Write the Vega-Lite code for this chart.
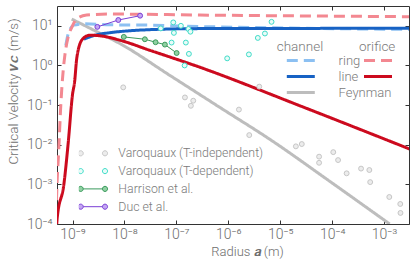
{
  "$schema": "https://vega.github.io/schema/vega-lite/v6.json",
  "width": 352,
  "height": 218,
  "autosize": "none",
  "padding": {"left": 57, "top": 6, "right": 7, "bottom": 43},
  "background": "white",
  "config": {
    "view": {"stroke": null},
    "font": "Roboto",
    "axis": {
      "grid": false,
      "domainColor": "#333333",
      "tickColor": "#333333",
      "domainWidth": 1,
      "tickWidth": 1,
      "tickSize": -4,
      "labelColor": "#6e6e6e",
      "titleColor": "#6e6e6e",
      "labelFont": "Roboto",
      "titleFont": "Roboto",
      "labelFontWeight": 300,
      "titleFontWeight": 300
    },
    "legend": {
      "labelFont": "Roboto",
      "titleFont": "Roboto",
      "labelFontWeight": 300,
      "titleFontWeight": 300,
      "labelColor": "#7a7a7a",
      "titleColor": "#7a7a7a",
      "padding": 0
    }
  },
  "datasets": {
    "curves": [
      {"g": "channel", "k": "Feynman", "x": 9.6e-10, "y": 14.8},
      {"g": "channel", "k": "Feynman", "x": 3.36e-9, "y": 6.5},
      {"g": "channel", "k": "Feynman", "x": 8.15e-9, "y": 3.57},
      {"g": "channel", "k": "Feynman", "x": 7.5e-8, "y": 0.56},
      {"g": "channel", "k": "Feynman", "x": 6.9e-7, "y": 0.087},
      {"g": "channel", "k": "Feynman", "x": 6.35e-6, "y": 0.0136},
      {"g": "channel", "k": "Feynman", "x": 9.1e-5, "y": 0.00118},
      {"g": "channel", "k": "Feynman", "x": 1.28e-3, "y": 0.0001},
      {"g": "channel", "k": "ring", "x": 7.4e-10, "y": 3.2},
      {"g": "channel", "k": "ring", "x": 8.3e-10, "y": 6.5},
      {"g": "channel", "k": "ring", "x": 1.06e-9, "y": 10.4},
      {"g": "channel", "k": "ring", "x": 1.73e-9, "y": 11.2},
      {"g": "channel", "k": "ring", "x": 5.2e-9, "y": 10.6},
      {"g": "channel", "k": "ring", "x": 3.1e-8, "y": 10.4},
      {"g": "channel", "k": "ring", "x": 2.8e-7, "y": 9.6},
      {"g": "channel", "k": "ring", "x": 2.4e-5, "y": 8.7},
      {"g": "channel", "k": "ring", "x": 3.1e-3, "y": 8.1},
      {"g": "channel", "k": "line", "x": 1.65e-9, "y": 4.6},
      {"g": "channel", "k": "line", "x": 2.7e-9, "y": 5.8},
      {"g": "channel", "k": "line", "x": 5.2e-9, "y": 6.7},
      {"g": "channel", "k": "line", "x": 1.45e-8, "y": 7.6},
      {"g": "channel", "k": "line", "x": 3.1e-8, "y": 8.0},
      {"g": "channel", "k": "line", "x": 2.8e-7, "y": 8.5},
      {"g": "channel", "k": "line", "x": 2.4e-5, "y": 8.6},
      {"g": "channel", "k": "line", "x": 3.1e-3, "y": 8.7},
      {"g": "orifice", "k": "ring", "x": 4.9e-10, "y": 0.0004},
      {"g": "orifice", "k": "ring", "x": 5.0e-10, "y": 0.00089},
      {"g": "orifice", "k": "ring", "x": 5.4e-10, "y": 0.0069},
      {"g": "orifice", "k": "ring", "x": 5.95e-10, "y": 0.108},
      {"g": "orifice", "k": "ring", "x": 6.6e-10, "y": 0.75},
      {"g": "orifice", "k": "ring", "x": 7.1e-10, "y": 1.8},
      {"g": "orifice", "k": "ring", "x": 8.2e-10, "y": 5.2},
      {"g": "orifice", "k": "ring", "x": 9.7e-10, "y": 9.3},
      {"g": "orifice", "k": "ring", "x": 1.19e-9, "y": 14.8},
      {"g": "orifice", "k": "ring", "x": 1.86e-9, "y": 18.7},
      {"g": "orifice", "k": "ring", "x": 5.2e-9, "y": 19.8},
      {"g": "orifice", "k": "ring", "x": 2.8e-7, "y": 18.7},
      {"g": "orifice", "k": "ring", "x": 3.1e-3, "y": 17.0},
      {"g": "orifice", "k": "line", "x": 4.95e-10, "y": 0.0001},
      {"g": "orifice", "k": "line", "x": 5.05e-10, "y": 0.000138},
      {"g": "orifice", "k": "line", "x": 6.8e-10, "y": 0.001},
      {"g": "orifice", "k": "line", "x": 8.2e-10, "y": 0.0104},
      {"g": "orifice", "k": "line", "x": 1.0e-9, "y": 0.19},
      {"g": "orifice", "k": "line", "x": 1.1e-9, "y": 0.41},
      {"g": "orifice", "k": "line", "x": 1.19e-9, "y": 1.34},
      {"g": "orifice", "k": "line", "x": 1.28e-9, "y": 2.4},
      {"g": "orifice", "k": "line", "x": 1.6e-9, "y": 4.8},
      {"g": "orifice", "k": "line", "x": 2.15e-9, "y": 5.8},
      {"g": "orifice", "k": "line", "x": 3.4e-9, "y": 5.6},
      {"g": "orifice", "k": "line", "x": 8.15e-9, "y": 4.33},
      {"g": "orifice", "k": "line", "x": 3.08e-8, "y": 2.41},
      {"g": "orifice", "k": "line", "x": 2.84e-7, "y": 0.9},
      {"g": "orifice", "k": "line", "x": 2.4e-5, "y": 0.096},
      {"g": "orifice", "k": "line", "x": 3.1e-3, "y": 0.0078}
    ],
    "pts": [
      {"src": "Varoquaux (T-independent)", "x": 9.45e-9, "y": 0.28},
      {"src": "Varoquaux (T-independent)", "x": 1.46e-7, "y": 0.156},
      {"src": "Varoquaux (T-independent)", "x": 2.11e-7, "y": 0.129},
      {"src": "Varoquaux (T-independent)", "x": 1.9e-7, "y": 0.096},
      {"src": "Varoquaux (T-independent)", "x": 1.6e-6, "y": 0.077},
      {"src": "Varoquaux (T-independent)", "x": 3.94e-6, "y": 0.292},
      {"src": "Varoquaux (T-independent)", "x": 2.53e-6, "y": 0.0175},
      {"src": "Varoquaux (T-independent)", "x": 2.0e-5, "y": 0.0091},
      {"src": "Varoquaux (T-independent)", "x": 2.6e-5, "y": 0.0104},
      {"src": "Varoquaux (T-independent)", "x": 5.6e-5, "y": 0.005},
      {"src": "Varoquaux (T-independent)", "x": 5.6e-5, "y": 0.0035},
      {"src": "Varoquaux (T-independent)", "x": 1.05e-4, "y": 0.0065},
      {"src": "Varoquaux (T-independent)", "x": 1.3e-4, "y": 0.0041},
      {"src": "Varoquaux (T-independent)", "x": 1.9e-4, "y": 0.0019},
      {"src": "Varoquaux (T-independent)", "x": 3.6e-4, "y": 0.0025},
      {"src": "Varoquaux (T-independent)", "x": 5.2e-4, "y": 0.0023},
      {"src": "Varoquaux (T-independent)", "x": 5.4e-4, "y": 0.00114},
      {"src": "Varoquaux (T-independent)", "x": 1.26e-3, "y": 0.00048},
      {"src": "Varoquaux (T-independent)", "x": 2.05e-3, "y": 0.00032},
      {"src": "Varoquaux (T-independent)", "x": 2.07e-3, "y": 0.00019},
      {"src": "Varoquaux (T-dependent)", "x": 5.0e-8, "y": 8.6},
      {"src": "Varoquaux (T-dependent)", "x": 8.7e-8, "y": 12.2},
      {"src": "Varoquaux (T-dependent)", "x": 8.95e-8, "y": 6.64},
      {"src": "Varoquaux (T-dependent)", "x": 1.22e-7, "y": 10.0},
      {"src": "Varoquaux (T-dependent)", "x": 1.7e-7, "y": 8.3},
      {"src": "Varoquaux (T-dependent)", "x": 1.86e-7, "y": 7.1},
      {"src": "Varoquaux (T-dependent)", "x": 8.07e-8, "y": 3.78},
      {"src": "Varoquaux (T-dependent)", "x": 1.52e-7, "y": 3.78},
      {"src": "Varoquaux (T-dependent)", "x": 1.74e-7, "y": 1.96},
      {"src": "Varoquaux (T-dependent)", "x": 1.44e-7, "y": 1.0},
      {"src": "Varoquaux (T-dependent)", "x": 9.5e-7, "y": 1.51},
      {"src": "Varoquaux (T-dependent)", "x": 2.49e-6, "y": 1.9},
      {"src": "Varoquaux (T-dependent)", "x": 3.7e-6, "y": 4.95},
      {"src": "Varoquaux (T-dependent)", "x": 5.07e-6, "y": 6.4},
      {"src": "Varoquaux (T-dependent)", "x": 6.8e-6, "y": 12.6},
      {"src": "Harrison et al.", "x": 9.7e-9, "y": 5.25},
      {"src": "Harrison et al.", "x": 2.47e-8, "y": 4.58},
      {"src": "Harrison et al.", "x": 3.97e-8, "y": 3.85},
      {"src": "Harrison et al.", "x": 6.0e-8, "y": 3.36},
      {"src": "Harrison et al.", "x": 1.01e-7, "y": 2.06},
      {"src": "Duc et al.", "x": 3.0e-9, "y": 9.4},
      {"src": "Duc et al.", "x": 7.6e-9, "y": 14.0},
      {"src": "Duc et al.", "x": 2.0e-8, "y": 18.0}
    ]
  },
  "layer": [
    {
      "data": {"name": "curves"},
      "transform": [{"filter": "datum.g == 'channel'"}],
      "mark": {"type": "line", "clip": true, "interpolate": "monotone"},
      "encoding": {
        "x": {
          "field": "x", "type": "quantitative",
          "scale": {"type": "log", "domain": [5.012e-10, 3.02e-3], "nice": false},
          "axis": {
            "orient": "bottom",
            "values": [1e-9, 1e-8, 1e-7, 1e-6, 1e-5, 1e-4, 1e-3],
            "labelExpr": "'10' + (datum.value < 1 ? '⁻' : '') + ['⁰','¹','²','³','⁴','⁵','⁶','⁷','⁸','⁹'][abs(round(log(datum.value)/LN10))]",
            "labelFontSize": 14,
            "labelPadding": 7,
            "title": "Radius  𝒂  (m)",
            "titleFontSize": 13,
            "titleX": 190,
            "titleY": 27,
            "titleBaseline": "middle"
          }
        },
        "y": {
          "field": "y", "type": "quantitative",
          "scale": {"type": "log", "domain": [0.0001, 31.62], "nice": false},
          "axis": {
            "orient": "left",
            "values": [0.0001, 0.001, 0.01, 0.1, 1, 10],
            "labelExpr": "'10' + (datum.value < 0.5 ? '⁻' : '') + ['⁰','¹','²','³','⁴','⁵','⁶','⁷','⁸','⁹'][abs(round(log(datum.value)/LN10))]",
            "labelFontSize": 14,
            "labelPadding": 9,
            "title": "Critical Velocity  𝒗𝒄  (m/s)",
            "titleFontSize": 13.5,
            "titleX": -44,
            "titleY": 85,
            "titleBaseline": "middle"
          }
        },
        "strokeWidth": {
          "field": "k", "type": "nominal",
          "scale": {"domain": ["ring", "line", "Feynman"], "range": [3, 3, 2.2]},
          "legend": null
        },
        "color": {
          "field": "k", "type": "nominal",
          "scale": {"domain": ["ring", "line", "Feynman"], "range": ["#8cc0f2", "#1762c4", "#bdbdbd"]},
          "legend": {
            "title": "channel",
            "orient": "none",
            "legendX": 219.7,
            "legendY": 34,
            "symbolType": "stroke",
            "symbolSize": 784,
            "symbolStrokeWidth": 3,
            "clipHeight": 12,
            "rowPadding": 3,
            "titlePadding": 1,
            "titleFontSize": 13.5,
            "labelFontSize": 13,
            "symbolOffset": 8.6,
            "labelOffset": 22.3
          }
        },
        "strokeDash": {
          "field": "k", "type": "nominal",
          "scale": {"domain": ["ring", "line", "Feynman"], "range": [[11, 6], [1, 0], [1, 0]]},
          "legend": {
            "title": "channel",
            "orient": "none",
            "legendX": 219.7,
            "legendY": 34,
            "symbolType": "stroke",
            "symbolSize": 784,
            "symbolStrokeWidth": 3,
            "clipHeight": 12,
            "rowPadding": 3,
            "titlePadding": 1,
            "titleFontSize": 13.5,
            "labelFontSize": 13,
            "symbolOffset": 8.6,
            "labelOffset": 22.3
          }
        }
      }
    },
    {
      "data": {"name": "curves"},
      "transform": [{"filter": "datum.g == 'orifice'"}],
      "mark": {"type": "line", "clip": true, "interpolate": "monotone", "strokeWidth": 3},
      "encoding": {
        "x": {
          "field": "x", "type": "quantitative",
          "axis": {"orient": "top", "values": [1e-9, 1e-8, 1e-7, 1e-6, 1e-5, 1e-4, 1e-3], "labels": false, "title": null}
        },
        "y": {
          "field": "y", "type": "quantitative",
          "axis": {"orient": "right", "values": [0.0001, 0.001, 0.01, 0.1, 1, 10], "labels": false, "title": null}
        },
        "color": {
          "field": "k", "type": "nominal",
          "scale": {"domain": ["ring", "line"], "range": ["#f38891", "#cc0a1e"]},
          "legend": {
            "title": "orifice",
            "orient": "none",
            "legendX": 302,
            "legendY": 34,
            "symbolType": "stroke",
            "symbolSize": 784,
            "symbolStrokeWidth": 3,
            "clipHeight": 12,
            "rowPadding": 3,
            "titlePadding": 1,
            "titleFontSize": 13.5,
            "labelFontSize": 13,
            "labelExpr": "''",
            "symbolOffset": 3.5
          }
        },
        "strokeDash": {
          "field": "k", "type": "nominal",
          "scale": {"domain": ["ring", "line"], "range": [[11, 6], [1, 0]]},
          "legend": {
            "title": "orifice",
            "orient": "none",
            "legendX": 302,
            "legendY": 34,
            "symbolType": "stroke",
            "symbolSize": 784,
            "symbolStrokeWidth": 3,
            "clipHeight": 12,
            "rowPadding": 3,
            "titlePadding": 1,
            "titleFontSize": 13.5,
            "labelFontSize": 13,
            "labelExpr": "''",
            "symbolOffset": 3.5
          }
        }
      }
    },
    {
      "data": {"name": "pts"},
      "transform": [{"filter": "datum.src == 'Harrison et al.' || datum.src == 'Duc et al.'"}],
      "mark": {"type": "line", "clip": true, "strokeWidth": 1},
      "encoding": {
        "x": {"field": "x", "type": "quantitative", "axis": null},
        "y": {"field": "y", "type": "quantitative", "axis": null},
        "stroke": {
          "field": "src", "type": "nominal",
          "scale": {"domain": ["Varoquaux (T-independent)", "Varoquaux (T-dependent)", "Harrison et al.", "Duc et al."], "range": ["rgba(0,0,0,0)", "rgba(0,0,0,0)", "#3a9a5c", "#7a3fd6"]},
          "legend": {
            "title": null,
            "orient": "none",
            "legendX": 21.85,
            "legendY": 140.3,
            "symbolType": "stroke",
            "symbolSize": 369,
            "symbolStrokeWidth": 1,
            "clipHeight": 14,
            "rowPadding": 3.8,
            "labelFontSize": 12.3,
            "labelExpr": "''",
            "symbolOffset": 3.5
          }
        }
      }
    },
    {
      "data": {"name": "pts"},
      "mark": {"type": "point", "shape": "circle", "filled": true, "size": 24, "strokeWidth": 1, "opacity": 1, "clip": true},
      "encoding": {
        "x": {"field": "x", "type": "quantitative", "axis": null},
        "y": {"field": "y", "type": "quantitative", "axis": null},
        "stroke": {
          "field": "src", "type": "nominal",
          "scale": {"domain": ["Varoquaux (T-independent)", "Varoquaux (T-dependent)", "Harrison et al.", "Duc et al."], "range": ["#c6c6c6", "#3fdcc8", "#3a9a5c", "#7a3fd6"]},
          "legend": {
            "title": null,
            "orient": "none",
            "legendX": 21.85,
            "legendY": 140.3,
            "symbolType": "M-0.71,0A0.19,0.19,0,1,1,-1.09,0A0.19,0.19,0,1,1,-0.71,0ZM1.09,0A0.19,0.19,0,1,1,0.71,0A0.19,0.19,0,1,1,1.09,0Z",
            "symbolSize": 729,
            "symbolStrokeWidth": 1,
            "clipHeight": 14,
            "rowPadding": 3.8,
            "labelFontSize": 12.3,
            "labelOffset": 11.5
          }
        },
        "fill": {
          "field": "src", "type": "nominal",
          "scale": {"domain": ["Varoquaux (T-independent)", "Varoquaux (T-dependent)", "Harrison et al.", "Duc et al."], "range": ["#ececec", "#e8fbf8", "#8fd0a2", "#c3a6f2"]},
          "legend": {
            "title": null,
            "orient": "none",
            "legendX": 21.85,
            "legendY": 140.3,
            "symbolType": "M-0.71,0A0.19,0.19,0,1,1,-1.09,0A0.19,0.19,0,1,1,-0.71,0ZM1.09,0A0.19,0.19,0,1,1,0.71,0A0.19,0.19,0,1,1,1.09,0Z",
            "symbolSize": 729,
            "symbolStrokeWidth": 1,
            "clipHeight": 14,
            "rowPadding": 3.8,
            "labelFontSize": 12.3,
            "labelOffset": 11.5
          }
        }
      }
    }
  ],
  "resolve": {
    "scale": {"color": "independent", "strokeDash": "independent", "stroke": "independent", "fill": "independent"},
    "axis": {"x": "independent", "y": "independent"}
  }
}
